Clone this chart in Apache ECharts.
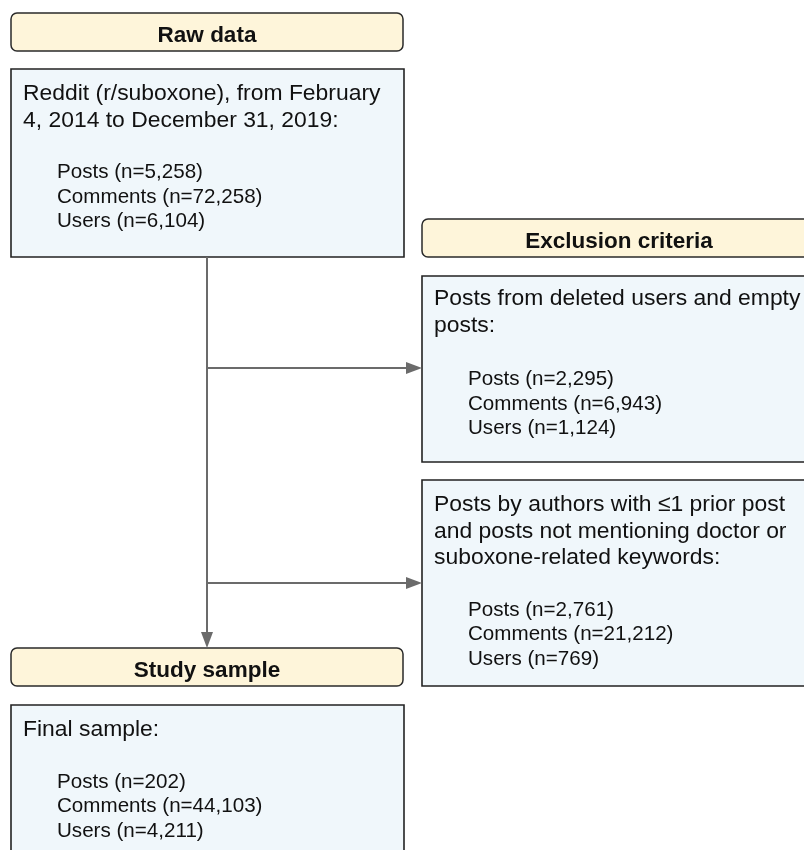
<!DOCTYPE html>
<html>
<head>
    <meta charset="utf-8">
    <title>Flow diagram</title>
    <script src="https://cdn.jsdelivr.net/npm/echarts@6/dist/echarts.min.js"></script>
    <style>
        html, body { margin: 0; padding: 0; background: #fff; }
    </style>
</head>
<body>
<div id="main" style="width: 804px;height:850px;"></div>
<script type="text/javascript">
  // section headers
  var headerLabels = ['Raw data', 'Exclusion criteria', 'Study sample'];
  // description lines of each box
  var boxTitles = [
    ['Reddit (r/suboxone), from February', '4, 2014 to December 31, 2019:'],
    ['Posts from deleted users and empty', 'posts:'],
    ['Posts by authors with \u22641 prior post', 'and posts not mentioning doctor or', 'suboxone-related keywords:'],
    ['Final sample:']
  ];
  // counts per box
  var countLabels = ['Posts', 'Comments', 'Users'];
  var postCounts = [5258, 2295, 2761, 202];
  var commentCounts = [72258, 6943, 21212, 44103];
  var userCounts = [6104, 1124, 769, 4211];

  // layout (pixels)
  var headerPos = [[11, 13, 392], [422, 219, 394], [11, 648, 392]];
  var boxPos = [[11, 69, 393, 188], [422, 276, 394, 186], [422, 480, 394, 206], [11, 705, 393, 170]];
  var titleOffset = [30, 28, 30, 30];
  var arrows = [
    [[207, 257], [207, 648]],
    [[207, 368], [422, 368]],
    [[207, 583], [422, 583]]
  ];

  var FONT = '"Liberation Sans", Arial, Helvetica, sans-serif';
  var lineColor = '#6b6b6b';

  function fmt(n) {
    return String(n).replace(/\B(?=(\d{3})+(?!\d))/g, ',');
  }

  var elements = [];

  headerLabels.forEach(function (label, i) {
    var p = headerPos[i];
    elements.push({
      type: 'rect',
      shape: { x: p[0], y: p[1], width: p[2], height: 38, r: 6 },
      style: { fill: '#fef5da', stroke: '#2a2a2a', lineWidth: 1.5 }
    });
    elements.push({
      type: 'text',
      style: {
        text: label, x: p[0] + p[2] / 2, y: p[1] + 23,
        font: 'bold 22.5px ' + FONT, fill: '#111',
        align: 'center', verticalAlign: 'middle'
      }
    });
  });

  boxTitles.forEach(function (lines, i) {
    var b = boxPos[i];
    elements.push({
      type: 'rect',
      shape: { x: b[0], y: b[1], width: b[2], height: b[3] },
      style: { fill: '#f0f7fb', stroke: '#222', lineWidth: 1.6 }
    });
    var base = b[1] + titleOffset[i];
    lines.forEach(function (t, j) {
      elements.push({
        type: 'text',
        style: {
          text: t, x: b[0] + 12, y: base + j * 26.5 - 5,
          font: '22.9px ' + FONT, fill: '#111',
          align: 'left', verticalAlign: 'middle'
        }
      });
    });
    var cBase = b[1] + 30 + (lines.length - 1) * 26.5 + 51;
    var vals = [postCounts[i], commentCounts[i], userCounts[i]];
    countLabels.forEach(function (lab, k) {
      elements.push({
        type: 'text',
        style: {
          text: lab + ' (n=' + fmt(vals[k]) + ')', x: b[0] + 46, y: cBase + k * 24.5 - 4,
          font: '20.6px ' + FONT, fill: '#111',
          align: 'left', verticalAlign: 'middle'
        }
      });
    });
  });

  arrows.forEach(function (a) {
    var s = a[0], e = a[1];
    var dx = e[0] - s[0], dy = e[1] - s[1];
    var len = Math.sqrt(dx * dx + dy * dy);
    var ux = dx / len, uy = dy / len;
    var hl = 16, hw = 6;
    var bx = e[0] - ux * hl, by = e[1] - uy * hl;
    elements.push({
      type: 'polyline',
      shape: { points: [s, [bx, by]] },
      style: { stroke: lineColor, lineWidth: 2 }
    });
    elements.push({
      type: 'polygon',
      shape: { points: [e, [bx - uy * hw, by + ux * hw], [bx + uy * hw, by - ux * hw]] },
      style: { fill: lineColor }
    });
  });

  var myChart = echarts.init(document.getElementById('main'));
  var option = {
    backgroundColor: '#fff',
    animation: false,
    graphic: { elements: elements }
  };
  myChart.setOption(option);
</script>
</body>
</html>
